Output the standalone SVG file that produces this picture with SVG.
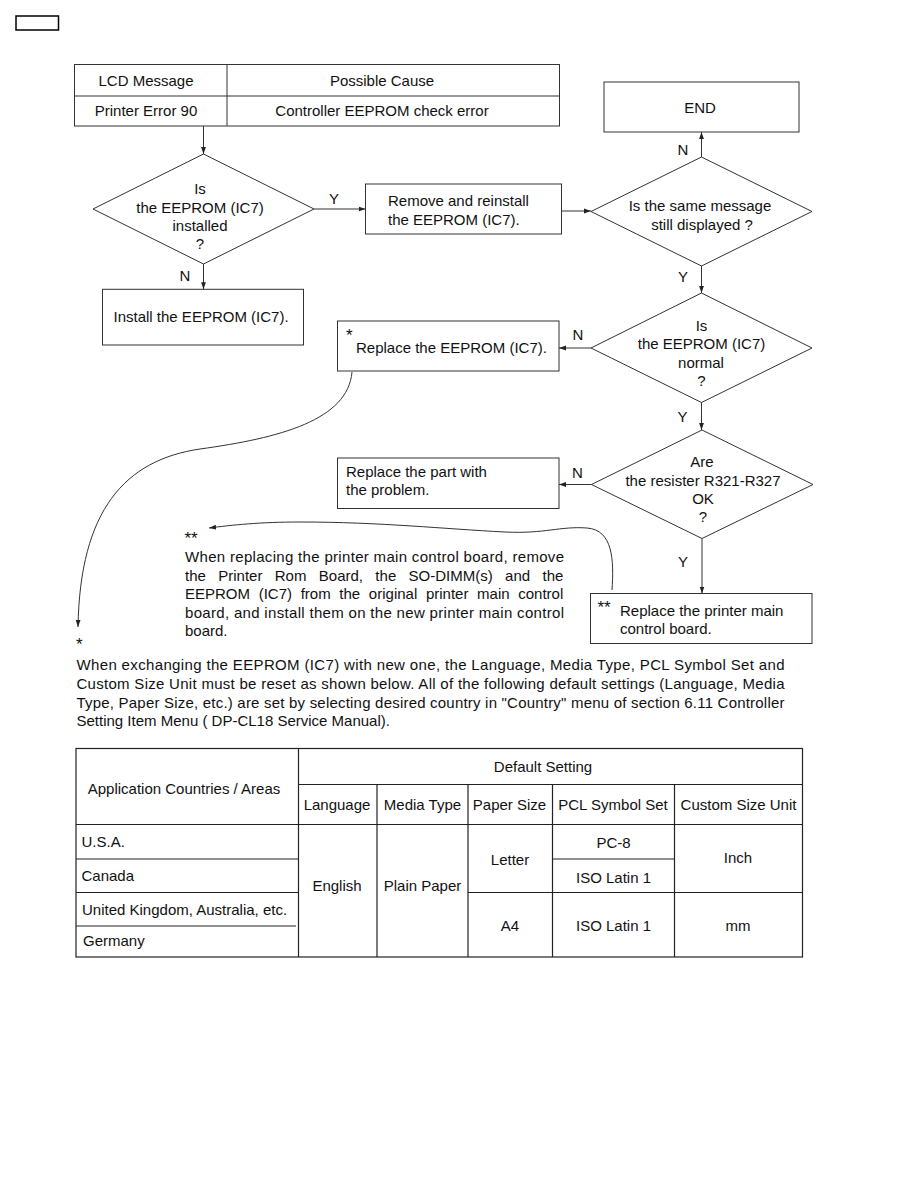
<svg xmlns="http://www.w3.org/2000/svg" width="918" height="1188" viewBox="0 0 918 1188">
<defs>
<style>
.t{font-family:"Liberation Sans",Arial,sans-serif;font-size:15px;fill:#111}
.c{text-anchor:middle}
.ast{font-size:17px}
.box{fill:#fff;stroke:#333;stroke-width:1}
.dia{fill:#fff;stroke:#333;stroke-width:1}
.ln{stroke:#333;stroke-width:1;fill:none}
.tb{stroke:#222;stroke-width:1.2;fill:none}
</style>
<marker id="ah" markerWidth="8" markerHeight="6" refX="7" refY="3" orient="auto" markerUnits="userSpaceOnUse"><path d="M0,0.6 L7,3 L0,5.4 z" fill="#222"/></marker>
</defs>
<rect width="918" height="1188" fill="#fff"/>
<rect x="16" y="16" width="42.5" height="14" fill="none" stroke="#000" stroke-width="1.5"/>

<g id="error-table">
<rect class="box" x="74.5" y="64.5" width="485" height="61.5"/>
<line class="ln" x1="74.5" y1="96" x2="559.5" y2="96"/>
<line class="ln" x1="227" y1="64.5" x2="227" y2="126"/>
<text class="t c" x="146" y="86">LCD Message</text>
<text class="t c" x="382" y="86">Possible Cause</text>
<text class="t c" x="146" y="116">Printer Error 90</text>
<text class="t c" x="382" y="116">Controller EEPROM check error</text>
</g>

<g id="d1">
<polygon class="dia" points="203.5,154 314,209 203.5,264 93,209"/>
<text class="t c" x="200" y="194">Is</text>
<text class="t c" x="200" y="212.5">the EEPROM (IC7)</text>
<text class="t c" x="200" y="231">installed</text>
<text class="t c" x="200" y="249">?</text>
</g>

<g id="remove-box">
<rect class="box" x="365.5" y="184" width="196" height="50"/>
<text class="t" x="388" y="206">Remove and reinstall</text>
<text class="t" x="388" y="224.5">the EEPROM (IC7).</text>
</g>

<g id="install-box">
<rect class="box" x="102.5" y="289.3" width="201" height="55.7"/>
<text class="t" x="113.5" y="322">Install the EEPROM (IC7).</text>
</g>

<g id="end-box">
<rect class="box" x="604" y="82" width="195" height="50"/>
<text class="t c" x="700" y="112.5">END</text>
</g>

<g id="d2">
<polygon class="dia" points="701.5,157 812,211.5 701.5,266 591,211.5"/>
<text class="t c" x="700" y="211">Is the same message</text>
<text class="t c" x="702" y="229.5">still displayed ?</text>
</g>

<g id="d3">
<polygon class="dia" points="701.5,293 812,348 701.5,402.5 591,348"/>
<text class="t c" x="701.5" y="330.5">Is</text>
<text class="t c" x="701.5" y="349">the EEPROM (IC7)</text>
<text class="t c" x="701" y="367.5">normal</text>
<text class="t c" x="701.5" y="386">?</text>
</g>

<g id="replace-eeprom-box">
<rect class="box" x="337.5" y="321" width="221.5" height="50"/>
<text class="t ast" x="346" y="341">*</text>
<text class="t" x="356" y="353">Replace the EEPROM (IC7).</text>
</g>

<g id="d4">
<polygon class="dia" points="702,430 813,484.5 702,538.5 591.5,484.5"/>
<text class="t c" x="702" y="467">Are</text>
<text class="t c" x="703" y="485.5">the resister R321-R327</text>
<text class="t c" x="703" y="504">OK</text>
<text class="t c" x="703" y="522">?</text>
</g>

<g id="replace-part-box">
<rect class="box" x="337.5" y="458" width="221.5" height="50.5"/>
<text class="t" x="346" y="476.5">Replace the part with</text>
<text class="t" x="346" y="495">the problem.</text>
</g>

<g id="replace-board-box">
<rect class="box" x="590.5" y="593.5" width="221.5" height="50"/>
<text class="t ast" x="597.5" y="613">**</text>
<text class="t" x="620" y="615.5">Replace the printer main</text>
<text class="t" x="620" y="633.5">control board.</text>
</g>

<g id="connectors">
<line class="ln" x1="203.5" y1="126" x2="203.5" y2="154" marker-end="url(#ah)"/>
<line class="ln" x1="314" y1="209" x2="365.5" y2="209" marker-end="url(#ah)"/>
<text class="t c" x="334" y="203.5">Y</text>
<line class="ln" x1="203.5" y1="264" x2="203.5" y2="289.3" marker-end="url(#ah)"/>
<text class="t c" x="185" y="281">N</text>
<line class="ln" x1="561.5" y1="211" x2="591" y2="211" marker-end="url(#ah)"/>
<line class="ln" x1="701.5" y1="157" x2="701.5" y2="132" marker-end="url(#ah)"/>
<text class="t c" x="683" y="154.5">N</text>
<line class="ln" x1="701.5" y1="266" x2="701.5" y2="293" marker-end="url(#ah)"/>
<text class="t c" x="683" y="282">Y</text>
<line class="ln" x1="591" y1="348" x2="559" y2="348" marker-end="url(#ah)"/>
<text class="t c" x="578" y="340">N</text>
<line class="ln" x1="701.5" y1="402.5" x2="701.5" y2="430" marker-end="url(#ah)"/>
<text class="t c" x="682.5" y="422">Y</text>
<line class="ln" x1="591.5" y1="484.5" x2="559" y2="484.5" marker-end="url(#ah)"/>
<text class="t c" x="577.5" y="478">N</text>
<line class="ln" x1="702" y1="538.5" x2="702" y2="593.5" marker-end="url(#ah)"/>
<text class="t c" x="683" y="567">Y</text>
<path class="ln" d="M352,372 C348,420 280,438 200,449 C125,460 80,510 78,627" marker-end="url(#ah)"/>
<path class="ln" d="M612,590 C614,560 613,530 587,528 C560,526 545,534 505,532 C445,529 380,522 300,522 C260,522 232,525 209,528" marker-end="url(#ah)"/>
</g>

<g id="note-board">
<text class="t ast" x="184.5" y="544">**</text>
<text class="t" x="185" y="562" textLength="379" lengthAdjust="spacing">When replacing the printer main control board, remove</text>
<text class="t" x="185" y="580.5" word-spacing="8.2">the Printer Rom Board, the SO-DIMM(s) and the</text>
<text class="t" x="185" y="599" word-spacing="4.5">EEPROM (IC7) from the original printer main control</text>
<text class="t" x="185" y="617.5" textLength="379" lengthAdjust="spacing">board, and install them on the new printer main control</text>
<text class="t" x="185" y="636">board.</text>
</g>

<g id="note-eeprom">
<text class="t ast" x="76" y="650">*</text>
<text class="t" x="76.5" y="669.5" textLength="708" lengthAdjust="spacing">When exchanging the EEPROM (IC7) with new one, the Language, Media Type, PCL Symbol Set and</text>
<text class="t" x="76.5" y="688.5" textLength="708" lengthAdjust="spacing">Custom Size Unit must be reset as shown below. All of the following default settings (Language, Media</text>
<text class="t" x="76.5" y="707.5" textLength="708" lengthAdjust="spacing">Type, Paper Size, etc.) are set by selecting desired country in "Country" menu of section 6.11 Controller</text>
<text class="t" x="76.5" y="726">Setting Item Menu ( DP-CL18 Service Manual).</text>
</g>

<g id="settings-table">
<rect class="tb" x="76" y="748.5" width="726.5" height="208.5"/>
<line class="tb" x1="298.5" y1="784.5" x2="802.5" y2="784.5"/>
<line class="tb" x1="76" y1="824.5" x2="802.5" y2="824.5"/>
<line class="tb" x1="76" y1="859" x2="298.5" y2="859"/>
<line class="tb" x1="552.5" y1="859" x2="674.5" y2="859"/>
<line class="tb" x1="76" y1="892.5" x2="298.5" y2="892.5"/>
<line class="tb" x1="468" y1="892.5" x2="802.5" y2="892.5"/>
<line class="tb" x1="76" y1="926" x2="296" y2="926"/>
<line class="tb" x1="298.5" y1="748.5" x2="298.5" y2="957"/>
<line class="tb" x1="377" y1="784.5" x2="377" y2="957"/>
<line class="tb" x1="468" y1="784.5" x2="468" y2="957"/>
<line class="tb" x1="552.5" y1="784.5" x2="552.5" y2="957"/>
<line class="tb" x1="674.5" y1="784.5" x2="674.5" y2="957"/>
<text class="t c" x="184" y="793.5">Application Countries / Areas</text>
<text class="t c" x="543" y="771.5">Default Setting</text>
<text class="t c" x="337" y="810">Language</text>
<text class="t c" x="422.5" y="810">Media Type</text>
<text class="t c" x="509.5" y="810">Paper Size</text>
<text class="t c" x="613" y="810">PCL Symbol Set</text>
<text class="t c" x="738.5" y="810">Custom Size Unit</text>
<text class="t" x="81.5" y="847">U.S.A.</text>
<text class="t" x="81.5" y="881">Canada</text>
<text class="t" x="82" y="914.5">United Kingdom, Australia, etc.</text>
<text class="t" x="83" y="945.5">Germany</text>
<text class="t c" x="337" y="891">English</text>
<text class="t c" x="422.5" y="891">Plain Paper</text>
<text class="t c" x="510" y="864.5">Letter</text>
<text class="t c" x="613.5" y="847.5">PC-8</text>
<text class="t c" x="613.5" y="882.5">ISO Latin 1</text>
<text class="t c" x="738" y="863">Inch</text>
<text class="t c" x="510" y="931">A4</text>
<text class="t c" x="613.5" y="931">ISO Latin 1</text>
<text class="t c" x="738" y="931">mm</text>
</g>
</svg>
